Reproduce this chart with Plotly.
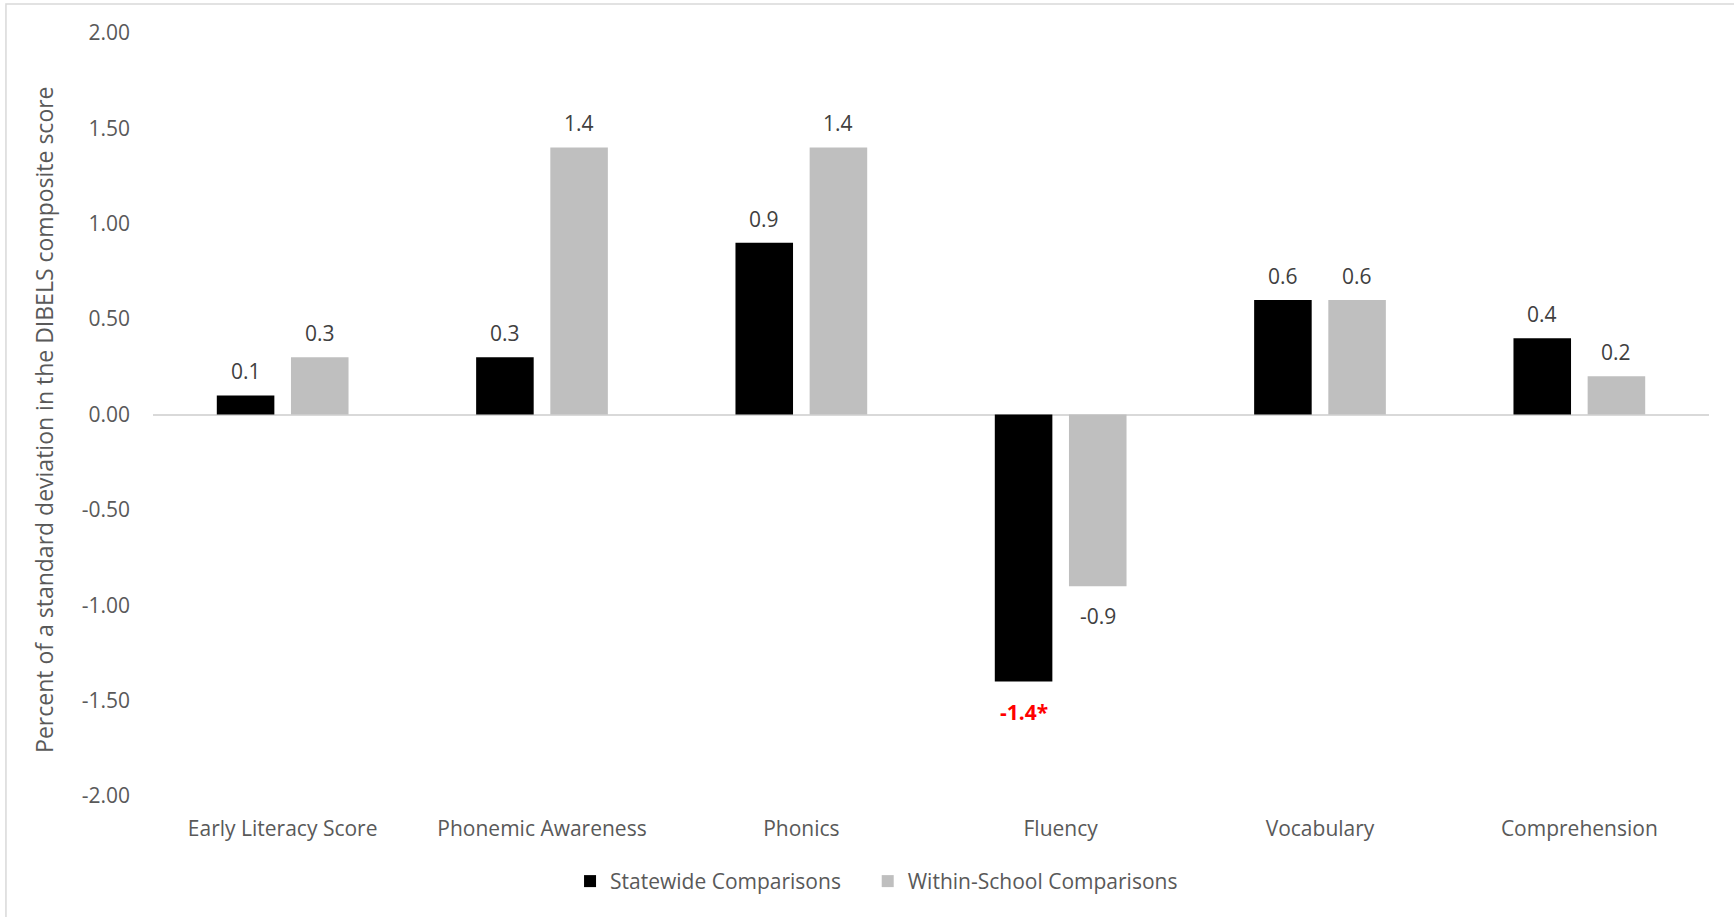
import plotly.graph_objects as go

categories = ["Early Literacy Score", "Phonemic Awareness", "Phonics", "Fluency", "Vocabulary", "Comprehension"]
statewide = [0.1, 0.3, 0.9, -1.4, 0.6, 0.4]
within_school = [0.3, 1.4, 1.4, -0.9, 0.6, 0.2]
statewide_labels = ["0.1", "0.3", "0.9", "-1.4*", "0.6", "0.4"]
within_labels = ["0.3", "1.4", "1.4", "-0.9", "0.6", "0.2"]
significant = [False, False, False, True, False, False]
y_ticks = [-2.0, -1.5, -1.0, -0.5, 0.0, 0.5, 1.0, 1.5, 2.0]
y_title = "Percent of a standard deviation in the DIBELS composite score"
series_names = ["Statewide Comparisons", "Within-School Comparisons"]

FONT = "Open Sans"
AXIS_COLOR = "#595959"
LABEL_COLOR = "#404040"
NBSP_PAD = "\u00a0" * 4

fig = go.Figure()
fig.add_trace(go.Bar(
    x=categories, y=statewide, name=series_names[0] + NBSP_PAD,
    marker=dict(color="#000000", line=dict(width=0)),
))
fig.add_trace(go.Bar(
    x=categories, y=within_school, name=series_names[1],
    marker=dict(color="#BFBFBF", line=dict(width=0)),
))

annotations = []
for series, labels, shift in ((statewide, statewide_labels, -37), (within_school, within_labels, 37)):
    for i, (cat, v, lab) in enumerate(zip(categories, series, labels)):
        sig = significant[i] and series is statewide
        annotations.append(dict(
            x=cat, y=v, xref="x", yref="y", text=f"<b>{lab}</b>" if sig else lab,
            showarrow=False, xshift=shift,
            yanchor="bottom" if v >= 0 else "top",
            yshift=8 if v >= 0 else -14,
            font=dict(family=FONT, size=21, color="#FF0000" if sig else LABEL_COLOR),
        ))

annotations.append(dict(
    text=y_title, xref="paper", yref="paper", x=-0.070, y=0.493,
    xanchor="center", yanchor="middle", textangle=-90, showarrow=False,
    font=dict(family=FONT, size=23, color=AXIS_COLOR),
))

fig.update_layout(
    width=1734, height=917,
    margin=dict(l=153, r=25, t=33, b=121),
    paper_bgcolor="white", plot_bgcolor="white",
    barmode="group", bargap=0.428, bargroupgap=0.224,
    font=dict(family=FONT, size=21, color=AXIS_COLOR),
    annotations=annotations,
    showlegend=True,
    legend=dict(
        orientation="h", x=0.465, xanchor="center", y=-0.112, yanchor="middle",
        font=dict(family=FONT, size=21, color=AXIS_COLOR),
        itemclick=False, bgcolor="rgba(0,0,0,0)",
    ),
    shapes=[dict(
        type="rect", xref="paper", yref="paper",
        x0=-0.0945, x1=1.2, y0=-0.5, y1=1.038,
        line=dict(color="#D9D9D9", width=1.5), fillcolor="rgba(0,0,0,0)", layer="below",
    )],
)

fig.update_xaxes(
    showgrid=False, showline=False, ticks="",
    tickfont=dict(family=FONT, size=21, color=AXIS_COLOR),
    ticklabelstandoff=18,
)
fig.update_yaxes(
    range=[-2, 2], tickvals=y_ticks, ticktext=[f"{v:.2f}" for v in y_ticks],
    showgrid=False, showline=False, ticks="",
    zeroline=True, zerolinecolor="#D9D9D9", zerolinewidth=1.5,
    tickfont=dict(family=FONT, size=21, color=AXIS_COLOR),
    ticklabelstandoff=22,
)

fig.write_html("out.html")
